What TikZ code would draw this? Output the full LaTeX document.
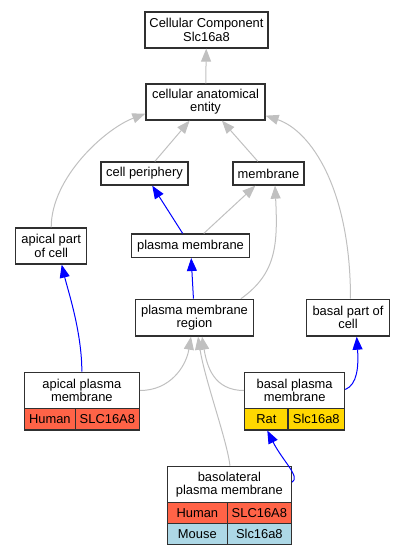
\documentclass[tikz,border=0pt]{standalone}
\usepackage{fontspec}
\setmainfont{Liberation Sans}
\usepackage{xcolor}
\usepackage{tikz}
\usetikzlibrary{arrows.meta, positioning, calc}
\definecolor{HumanRed}{HTML}{FF6347}
\definecolor{RatGold}{HTML}{FFD700}
\definecolor{MouseBlue}{HTML}{ADD8E6}
\definecolor{EdgeGray}{HTML}{C0C0C0}
\definecolor{BorderGray}{HTML}{303030}
\definecolor{PartBlue}{HTML}{0000FF}

\begin{document}
\begin{tikzpicture}[
  x=1pt, y=-1pt,
  every node/.style = {font=\fontsize{12.9}{13.3}\selectfont},
  block/.style = {
    rectangle, draw=BorderGray, line width=1.3pt,
    inner sep=0pt, align=center, fill=white
  },
  cellblock/.style = {block, anchor=north west, minimum height=21.5pt},
  humancell/.style = {cellblock, fill=HumanRed},
  ratcell/.style   = {cellblock, fill=RatGold},
  mousecell/.style = {cellblock, fill=MouseBlue},
  isa/.style    = {-{Triangle[length=13pt, width=10pt]}, line width=1pt, color=EdgeGray},
  partof/.style = {-{Triangle[length=13pt, width=10pt]}, line width=1pt, color=PartBlue},
]
\useasboundingbox (0,0) rectangle (405,555);

% Upper terms
\node[block, minimum width=123pt, minimum height=36pt] (cc) at (206.5,30)
  {Cellular Component\\Slc16a8};
\node[block, minimum width=119pt, minimum height=36pt] (cae) at (205.5,102)
  {cellular anatomical\\entity};
\node[block, minimum width=87pt, minimum height=23pt] (cp) at (144.5,173.5)
  {cell periphery};
\node[block, minimum width=71pt, minimum height=23pt] (mem) at (268.5,173.5)
  {membrane};

% Middle terms
\node[block, minimum width=71pt, minimum height=36pt] (apc) at (51.2,246)
  {apical part\\of cell};
\node[block, minimum width=117.6pt, minimum height=23.3pt] (pm) at (190.5,245.7)
  {plasma membrane};
\node[block, minimum width=117.6pt, minimum height=36.7pt] (pmr) at (194.5,317.7)
  {plasma membrane\\region};
\node[block, minimum width=82.6pt, minimum height=36.7pt] (bpc) at (348,317.7)
  {basal part of\\cell};

% Annotated terms (with gene tables)
\node[block, anchor=north west, minimum width=115pt, minimum height=36pt] (apm)
  at (23.7,371.7) {apical plasma\\membrane};
\node[humancell, minimum width=51pt] (apmhs) at (23.7,407.7) {Human};
\node[humancell, minimum width=64pt] (apmhg) at (74.7,407.7) {SLC16A8};

\node[block, anchor=north west, minimum width=100pt, minimum height=36pt] (bpm)
  at (244,371.7) {basal plasma\\membrane};
\node[ratcell, minimum width=43.3pt] (bpmrs) at (244,407.7) {Rat};
\node[ratcell, minimum width=56.7pt] (bpmrg) at (287.3,407.7) {Slc16a8};

\node[block, anchor=north west, minimum width=124pt, minimum height=36pt] (bl)
  at (166.7,465.7) {basolateral\\plasma membrane};
\node[humancell, minimum width=60pt, minimum height=21pt] (blhs) at (166.7,501.7) {Human};
\node[humancell, minimum width=64pt, minimum height=21pt] (blhg) at (226.7,501.7) {SLC16A8};
\node[mousecell, minimum width=60pt, minimum height=21.3pt] (blms) at (166.7,522.7) {Mouse};
\node[mousecell, minimum width=64pt, minimum height=21.3pt] (blmg) at (226.7,522.7) {Slc16a8};

% is_a edges
\draw[isa] (cae) -- (cc);
\draw[isa] (cp) -- (cae);
\draw[isa] (mem) -- (cae);
\draw[isa] (pm) -- (mem);
\draw[isa] (apc.north) .. controls +(0,-50) and +(-40,15) .. ($(cae.south west)+(0,-7)$);
\draw[isa] ($(bpc.north)+(2.5,0)$) .. controls +(0,-110) and +(45,15) .. ($(cae.south east)+(0,-5)$);
\draw[isa] ($(pmr.north east)+(-13,0)$) .. controls +(35,-25) and +(3,60) .. ($(mem.south)+(6.5,0)$);
\draw[isa] ($(apm.south east)+(0,-18.5)$) .. controls +(30,0) and +(-5,30) .. ($(pmr.south)+(-3.5,0)$);
\draw[isa] ($(bpm.south west)+(0,-18.5)$) .. controls +(-30,0) and +(5,30) .. ($(pmr.south)+(7.5,0)$);
\draw[isa] ($(bl.north)+(0.6,0)$) .. controls +(-3,-26) and +(7,44) .. ($(pmr.south)+(3.5,0)$);

% part_of edges
\draw[partof] (pm) -- (cp);
\draw[partof] (pmr) -- (pm);
\draw[partof] (apm.north) .. controls +(0,-40) and +(6,25) .. ($(apc.south)+(10.5,0)$);
\draw[partof] ($(bpm.south east)+(0,-19.5)$) .. controls +(12,-5) and +(2,30) .. ($(bpc.south)+(8.7,0)$);
\draw[partof] ($(bl.north east)+(0,16.5)$) .. controls +(9,-5) and +(15,30) .. ($(bpmrs.south)+(1,0)$);

\end{tikzpicture}
\end{document}
